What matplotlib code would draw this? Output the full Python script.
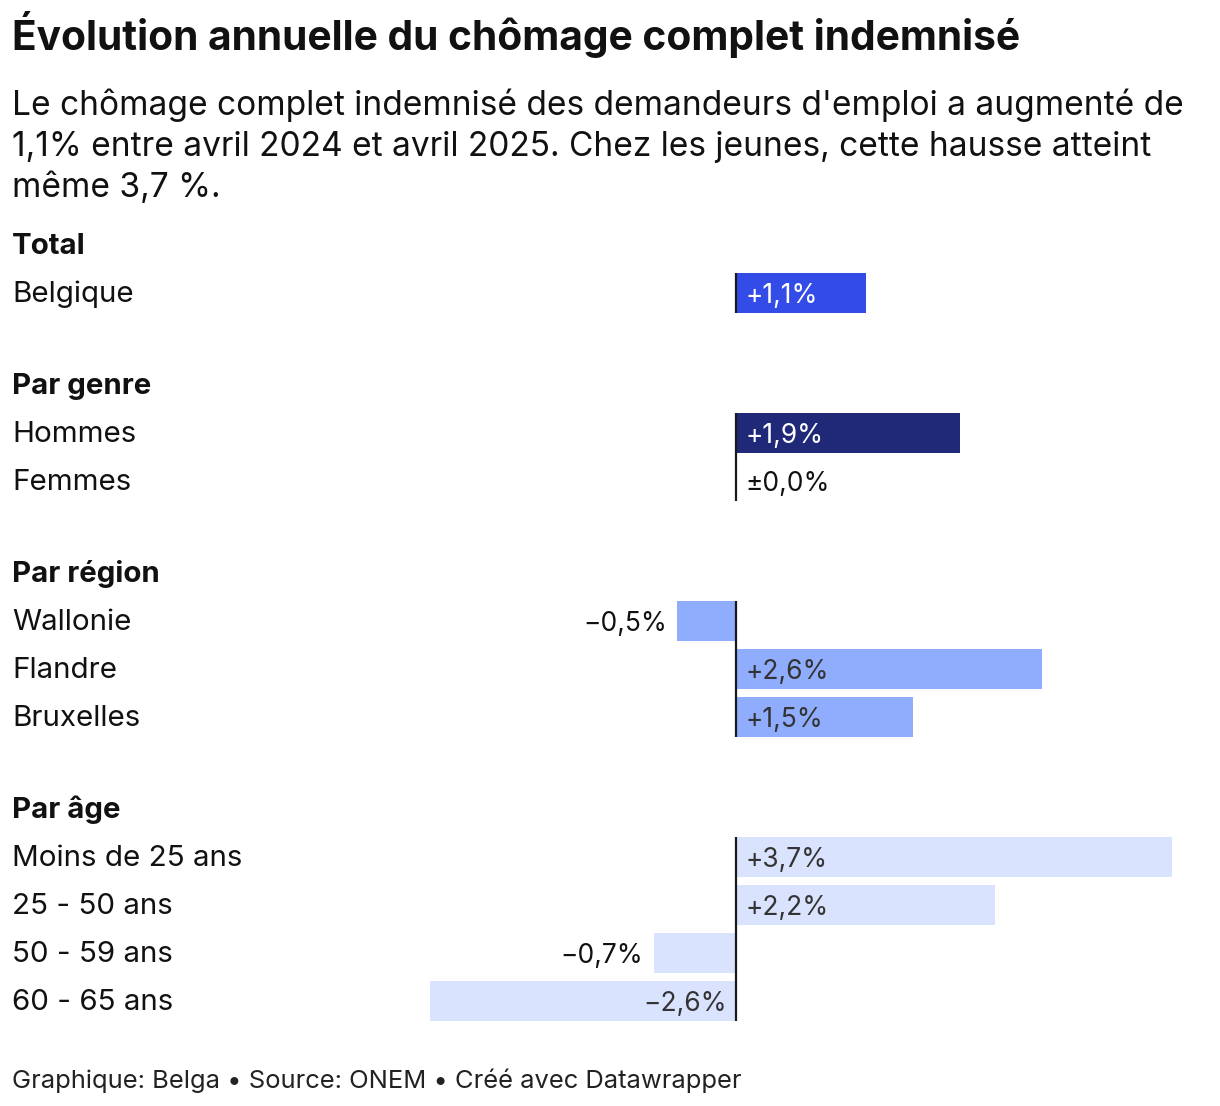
import matplotlib.pyplot as plt

# -----------------------------
# Data
# -----------------------------
groups = ["Total", "Par genre", "Par région", "Par âge"]
group_labels = [
    ["Belgique"],
    ["Hommes", "Femmes"],
    ["Wallonie", "Flandre", "Bruxelles"],
    ["Moins de 25 ans", "25 - 50 ans", "50 - 59 ans", "60 - 65 ans"],
]
group_values = [
    [1.1],
    [1.9, 0.0],
    [-0.5, 2.6, 1.5],
    [3.7, 2.2, -0.7, -2.6],
]
group_colors = ["#334ce8", "#1f2977", "#8fadfc", "#d9e3fd"]
text_on_bar = ["white", "white", "#333333", "#333333"]

title = "Évolution annuelle du chômage complet indemnisé"
subtitle_lines = [
    "Le chômage complet indemnisé des demandeurs d'emploi a augmenté de",
    "1,1% entre avril 2024 et avril 2025. Chez les jeunes, cette hausse atteint",
    "même 3,7 %.",
]
footer = "Graphique: Belga • Source: ONEM • Créé avec Datawrapper"

FONT = "Inter"
W, H = 1220, 1106
ZERO_PX = 736
PX_PER_PCT = 117.8

def fmt(v):
    if v == 0:
        return "±0,0%"
    s = f"{abs(v):.1f}".replace(".", ",")
    return ("+" if v > 0 else "\u2212") + s + "%"

# -----------------------------
# Figure
# -----------------------------
fig = plt.figure(figsize=(W / 100, H / 100), dpi=100)
ax = fig.add_axes([0, 0, 1, 1])
ax.set_xlim(-ZERO_PX / PX_PER_PCT, (W - ZERO_PX) / PX_PER_PCT)
ax.set_ylim(H, 0)
ax.axis("off")

xl = ax.get_xlim()[0]
left_x = xl + 12 / PX_PER_PCT

ax.text(left_x, 50, title, fontsize=29.3, fontweight="bold",
        family=FONT, color="#111111", va="baseline", ha="left")
for k, line in enumerate(subtitle_lines):
    ax.text(left_x, 115 + 41 * k, line, fontsize=24.1, family=FONT,
            color="#111111", va="baseline", ha="left")

y = 244
bar_h = 40
for g, name in enumerate(groups):
    ax.text(left_x, y + 10, name, fontsize=21.2, fontweight="bold", family=FONT,
            color="#111111", va="baseline", ha="left")
    rows = []
    for i, (lab, v) in enumerate(zip(group_labels[g], group_values[g])):
        ry = y + 49 + 48 * i
        rows.append(ry)
        ax.text(left_x, ry + 9, lab, fontsize=21.3, family=FONT, color="#111111",
                va="baseline", ha="left")
        ax.barh(ry, v, height=bar_h, color=group_colors[g], left=0)
        txt = fmt(v)
        if v >= 0:
            c = text_on_bar[g] if v > 0 else "#111111"
            ax.annotate(txt, (0, ry + 10), xytext=(6.5, 0), textcoords="offset points",
                        fontsize=19, family=FONT, color=c, va="baseline", ha="left")
        elif v < -1.0:
            ax.annotate(txt, (0, ry + 10), xytext=(-6.5, 0), textcoords="offset points",
                        fontsize=19, family=FONT, color=text_on_bar[g],
                        va="baseline", ha="right")
        else:
            ax.annotate(txt, (v, ry + 10), xytext=(-7.2, 0), textcoords="offset points",
                        fontsize=19, family=FONT, color="#111111",
                        va="baseline", ha="right")
    ax.vlines(0, rows[0] - bar_h / 2, rows[-1] + bar_h / 2, color="#1a1a1a", lw=1.6)
    y = rows[-1] + 91

ax.text(left_x, 1088, footer, fontsize=18.4, family=FONT,
        color="#222222", va="baseline", ha="left")

fig.savefig("out.png", dpi=100)
